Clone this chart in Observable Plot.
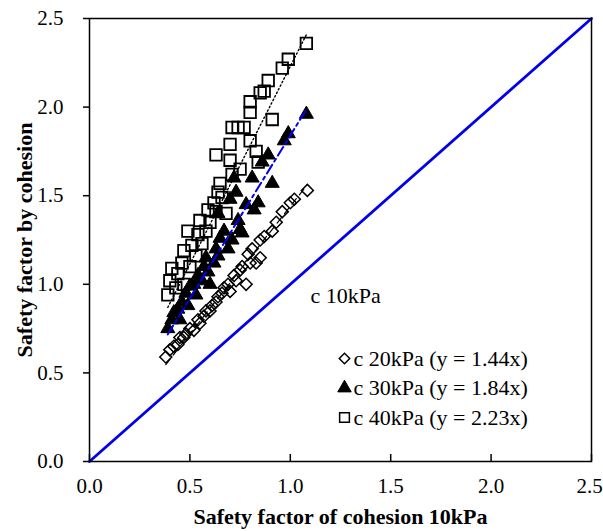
<!DOCTYPE html>
<html><head><meta charset="utf-8">
<script src="https://cdn.jsdelivr.net/npm/d3@7"></script>
<script src="https://cdn.jsdelivr.net/npm/@observablehq/plot@0.6"></script>
<style>body{margin:0;background:#fff}</style>
</head><body><div id="chart"></div>
<script>
const seriesNames = ["c 20kPa", "c 30kPa", "c 40kPa"];
const slopes = [1.44, 1.84, 2.23];
const legendLabels = ["c 20kPa (y = 1.44x)", "c 30kPa (y = 1.84x)", "c 40kPa (y = 2.23x)"];
const refLabel = "c 10kPa";
const axisTicks = [0, 0.5, 1.0, 1.5, 2.0, 2.5];

const c20x = [0.38,0.40,0.42,0.44,0.45,0.47,0.48,0.50,0.52,0.54,0.55,0.57,0.58,0.60,0.61,0.63,0.64,0.66,0.67,0.69,0.70,0.72,0.73,0.75,0.76,0.78,0.79,0.80,0.81,0.83,0.85,0.85,0.87,0.91,0.93,0.96,1.00,1.02,1.085];
const c20y = [0.59,0.63,0.65,0.66,0.70,0.70,0.72,0.75,0.74,0.80,0.78,0.82,0.85,0.85,0.88,0.90,0.93,0.95,0.98,1.00,0.96,1.05,1.02,1.08,1.10,1.00,1.17,1.12,1.20,1.12,1.25,1.15,1.27,1.30,1.35,1.41,1.46,1.48,1.53];

const c30x = [0.39,0.41,0.42,0.44,0.45,0.46,0.48,0.49,0.50,0.52,0.53,0.54,0.56,0.57,0.58,0.59,0.60,0.62,0.63,0.64,0.64,0.65,0.67,0.69,0.70,0.71,0.72,0.73,0.74,0.75,0.76,0.78,0.81,0.82,0.84,0.86,0.89,0.91,0.97,0.99,1.08];
const c30y = [0.75,0.80,0.84,0.86,0.80,0.90,0.95,0.88,0.99,1.00,0.94,1.05,1.02,1.10,1.15,1.07,1.00,1.12,1.20,1.16,1.40,1.26,1.30,1.20,1.48,1.25,1.60,1.52,1.36,1.31,1.29,1.45,1.60,1.42,1.46,1.69,1.73,1.57,1.81,1.85,1.96];

const c40x = [0.39,0.40,0.41,0.43,0.44,0.46,0.47,0.47,0.49,0.50,0.51,0.53,0.54,0.55,0.56,0.58,0.59,0.60,0.62,0.63,0.64,0.65,0.63,0.66,0.68,0.70,0.70,0.71,0.71,0.74,0.75,0.77,0.80,0.80,0.80,0.83,0.84,0.85,0.87,0.89,0.91,0.96,0.99,1.08];
const c40y = [0.94,1.02,1.09,0.98,1.06,1.12,1.00,1.19,1.30,1.10,1.22,1.16,1.28,1.36,1.23,1.30,1.42,1.35,1.46,1.41,1.52,1.57,1.73,1.49,1.40,1.70,1.79,1.62,1.885,1.885,1.65,1.885,1.81,2.03,1.97,1.75,1.69,2.08,2.09,2.15,1.93,2.22,2.27,2.36];

const toPts = (xs, ys) => xs.map((x, i) => ({x, y: ys[i]}));
const c20 = toPts(c20x, c20y), c30 = toPts(c30x, c30y), c40 = toPts(c40x, c40y);
const trend = (xs, k) => { const e = d3.extent(xs); return e.map(x => ({x, y: k * x})); };
const refLine = [{x: 0, y: 0}, {x: 2.5, y: 2.5}];

const FONT = "'Liberation Serif', 'Times New Roman', serif";
const fmt = d3.format(".1f");

const legendRows = [
  {label: legendLabels[0], sym: "square", rotate: 45, r: 4.2, fill: "none", sw: 1.5},
  {label: legendLabels[1], sym: "triangle", rotate: 0, r: 5.0, fill: "black", sw: 1},
  {label: legendLabels[2], sym: "square", rotate: 0, r: 5.5, fill: "none", sw: 1.5}
];
const legendMarks = legendRows.flatMap((row, i) => [
  Plot.dot([0], {frameAnchor: "top-left", dx: 255, dy: 340 + i * 29.5, symbol: row.sym, rotate: row.rotate, r: row.r, fill: row.fill, stroke: "black", strokeWidth: row.sw}),
  Plot.text([row.label], {frameAnchor: "top-left", dx: 264, dy: 340 + i * 29.5, textAnchor: "start", lineAnchor: "middle", fontSize: 22, fill: "black"})
]);

const chart = Plot.plot({
  width: 603, height: 531,
  marginLeft: 89, marginRight: 12, marginTop: 18, marginBottom: 70,
  x: {domain: [0, 2.5]},
  y: {domain: [0, 2.5]},
  style: {fontFamily: FONT, fontSize: "21px", color: "black", background: "white"},
  marks: [
    Plot.axisY({ticks: axisTicks, tickSize: 6, tickPadding: 20, tickFormat: fmt, label: null, fontSize: 21, strokeWidth: 1.5}),
    Plot.axisX({ticks: axisTicks.slice(0, -1), tickSize: 0, tickPadding: 17, tickFormat: fmt, label: null, fontSize: 21}),
    Plot.axisX({ticks: axisTicks.slice(-1), tickSize: 0, tickPadding: 17, tickFormat: fmt, label: null, fontSize: 21, dx: -2}),
    Plot.tickX(axisTicks, {x: d => d, insetTop: 436, stroke: "black", strokeWidth: 1.5}),
    Plot.line(refLine, {x: "x", y: "y", stroke: "#0000ee", strokeWidth: 2.8}),
    Plot.dot(c40, {x: "x", y: "y", symbol: "square", r: 6.5, fill: "none", stroke: "black", strokeWidth: 1.8}),
    Plot.dot(c30, {x: "x", y: "y", symbol: "triangle", r: 5.2, fill: "black", stroke: "black", strokeWidth: 1}),
    Plot.dot(c20, {x: "x", y: "y", symbol: "square", rotate: 45, r: 4.8, fill: "none", stroke: "black", strokeWidth: 1.5}),
    Plot.line(trend(c20x, slopes[0]), {x: "x", y: "y", stroke: "black", strokeWidth: 1.2, strokeDasharray: "7,5"}),
    Plot.line(trend(c30x, slopes[1]), {x: "x", y: "y", stroke: "#0000ee", strokeWidth: 2, strokeDasharray: "10,4,3,4"}),
    Plot.line(trend(c40x, slopes[2]), {x: "x", y: "y", stroke: "black", strokeWidth: 1.4, strokeDasharray: "1.5,2.5"}),
    Plot.text([refLabel], {x: 1.10, y: 0.937, textAnchor: "start", fontSize: 22, fill: "black"}),
    ...legendMarks,
    Plot.text(["Safety factor by cohesion"], {frameAnchor: "left", textAnchor: "middle", dx: -65, rotate: -90, fontSize: 22, fontWeight: "bold", fill: "black"}),
    Plot.text(["Safety factor of cohesion 10kPa"], {frameAnchor: "bottom", textAnchor: "middle", dy: 62, fontSize: 22, fontWeight: "bold", fill: "black"}),
    Plot.frame({stroke: "black", strokeWidth: 1.5})
  ]
});
document.getElementById("chart").appendChild(chart);
</script>
</body></html>
